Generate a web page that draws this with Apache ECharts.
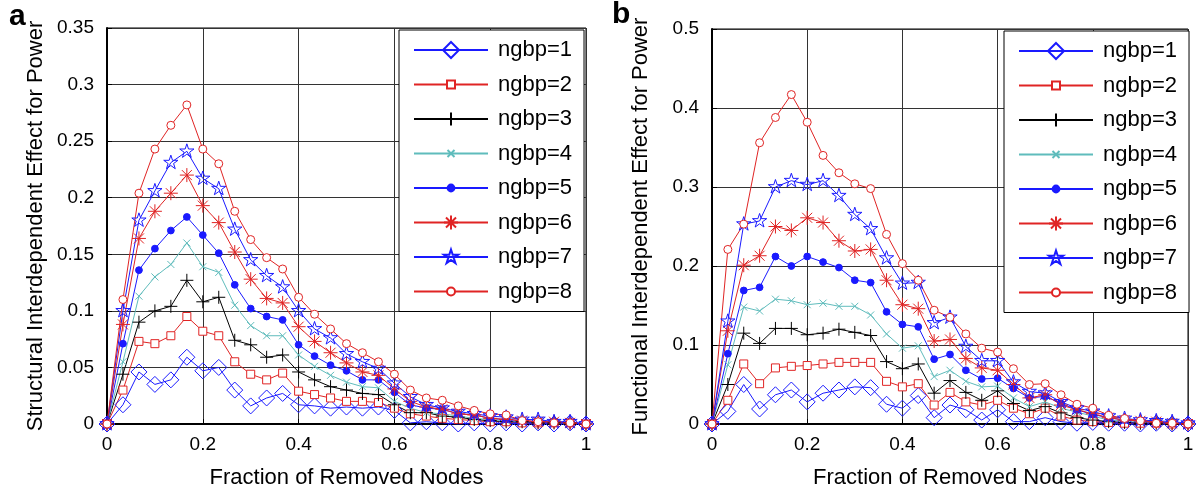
<!DOCTYPE html>
<html>
<head>
<meta charset="utf-8">
<script src="https://cdn.jsdelivr.net/npm/echarts@6/dist/echarts.min.js"></script>
<style>html,body{margin:0;padding:0;background:#fff;}#c{width:1198px;height:494px;}</style>
</head>
<body>
<div id="c"></div>
<script>
const xs = [0, 0.0333, 0.0667, 0.1, 0.1333, 0.1667, 0.2, 0.2333, 0.2667, 0.3, 0.3333, 0.3667, 0.4, 0.4333, 0.4667, 0.5, 0.5333, 0.5667, 0.6, 0.6333, 0.6667, 0.7, 0.7333, 0.7667, 0.8, 0.8333, 0.8667, 0.9, 0.9333, 0.9667, 1];
const seriesNames = ['ngbp=1','ngbp=2','ngbp=3','ngbp=4','ngbp=5','ngbp=6','ngbp=7','ngbp=8'];

// Panel a: Structural Interdependent Effect for Power
const L1 = [0, 0.017, 0.046, 0.035, 0.039, 0.059, 0.047, 0.050, 0.030, 0.016, 0.023, 0.027, 0.017, 0.016, 0.014, 0.015, 0.014, 0.015, 0.012, 0.001, 0.002, 0.001, 0.000, 0.001, 0.000, 0.001, 0.000, 0.001, 0.000, 0.001, 0.000];
const L2 = [0, 0.030, 0.073, 0.071, 0.078, 0.095, 0.082, 0.078, 0.055, 0.044, 0.039, 0.045, 0.029, 0.026, 0.023, 0.020, 0.020, 0.019, 0.014, 0.009, 0.007, 0.005, 0.004, 0.003, 0.002, 0.002, 0.001, 0.001, 0.001, 0.001, 0.000];
const L3 = [0, 0.044, 0.090, 0.100, 0.104, 0.127, 0.108, 0.112, 0.074, 0.070, 0.059, 0.061, 0.046, 0.039, 0.033, 0.030, 0.027, 0.026, 0.017, 0.010, 0.010, 0.007, 0.006, 0.004, 0.003, 0.002, 0.002, 0.001, 0.001, 0.001, 0.000];
const L4 = [0, 0.055, 0.113, 0.130, 0.141, 0.160, 0.139, 0.134, 0.105, 0.087, 0.078, 0.078, 0.061, 0.051, 0.043, 0.037, 0.033, 0.032, 0.020, 0.014, 0.010, 0.009, 0.007, 0.005, 0.004, 0.003, 0.002, 0.002, 0.001, 0.001, 0.000];
const L5 = [0, 0.071, 0.136, 0.155, 0.171, 0.183, 0.167, 0.151, 0.123, 0.102, 0.095, 0.092, 0.070, 0.060, 0.052, 0.047, 0.039, 0.039, 0.028, 0.017, 0.014, 0.013, 0.009, 0.008, 0.005, 0.004, 0.003, 0.002, 0.002, 0.001, 0.000];
const L6 = [0, 0.088, 0.164, 0.188, 0.204, 0.220, 0.193, 0.178, 0.152, 0.128, 0.111, 0.107, 0.086, 0.073, 0.063, 0.054, 0.046, 0.043, 0.031, 0.020, 0.015, 0.013, 0.009, 0.008, 0.005, 0.004, 0.003, 0.002, 0.002, 0.001, 0.000];
const L7 = [0, 0.100, 0.180, 0.206, 0.231, 0.241, 0.217, 0.208, 0.172, 0.145, 0.131, 0.121, 0.100, 0.084, 0.076, 0.062, 0.055, 0.049, 0.036, 0.024, 0.017, 0.014, 0.011, 0.009, 0.007, 0.006, 0.004, 0.004, 0.002, 0.002, 0.000];
const L8 = [0, 0.110, 0.204, 0.243, 0.264, 0.282, 0.243, 0.230, 0.188, 0.163, 0.147, 0.137, 0.112, 0.097, 0.084, 0.071, 0.063, 0.055, 0.044, 0.030, 0.023, 0.021, 0.016, 0.012, 0.009, 0.008, 0.003, 0.002, 0.001, 0.001, 0.000];

// Panel b: Functional Interdependent Effect for Power
const R1 = [0, 0.016, 0.050, 0.019, 0.037, 0.043, 0.028, 0.039, 0.043, 0.047, 0.046, 0.025, 0.020, 0.036, 0.008, 0.024, 0.018, 0.005, 0.018, 0.003, 0.003, 0.008, 0.003, 0.001, 0.002, 0.001, 0.001, 0.000, 0.001, 0.000, 0.000];
const R2 = [0, 0.030, 0.076, 0.051, 0.071, 0.073, 0.074, 0.076, 0.078, 0.078, 0.078, 0.054, 0.047, 0.051, 0.024, 0.040, 0.028, 0.024, 0.030, 0.020, 0.013, 0.020, 0.010, 0.005, 0.003, 0.002, 0.001, 0.001, 0.001, 0.000, 0.000];
const R3 = [0, 0.050, 0.115, 0.102, 0.121, 0.121, 0.113, 0.115, 0.120, 0.116, 0.112, 0.079, 0.070, 0.076, 0.039, 0.055, 0.040, 0.030, 0.042, 0.026, 0.017, 0.022, 0.014, 0.008, 0.005, 0.003, 0.002, 0.001, 0.001, 0.000, 0.000];
const R4 = [0, 0.075, 0.148, 0.143, 0.158, 0.156, 0.151, 0.153, 0.149, 0.149, 0.138, 0.114, 0.096, 0.099, 0.060, 0.068, 0.054, 0.047, 0.048, 0.033, 0.022, 0.028, 0.020, 0.015, 0.010, 0.005, 0.004, 0.003, 0.002, 0.001, 0.000];
const R5 = [0, 0.089, 0.169, 0.173, 0.212, 0.200, 0.212, 0.205, 0.198, 0.182, 0.179, 0.142, 0.126, 0.123, 0.082, 0.088, 0.068, 0.057, 0.058, 0.045, 0.033, 0.035, 0.026, 0.018, 0.012, 0.008, 0.005, 0.004, 0.003, 0.001, 0.000];
const R6 = [0, 0.118, 0.201, 0.213, 0.250, 0.245, 0.261, 0.255, 0.232, 0.219, 0.221, 0.182, 0.151, 0.146, 0.105, 0.107, 0.083, 0.071, 0.068, 0.050, 0.033, 0.037, 0.024, 0.018, 0.013, 0.008, 0.005, 0.004, 0.003, 0.001, 0.000];
const R7 = [0, 0.130, 0.253, 0.257, 0.300, 0.308, 0.303, 0.308, 0.289, 0.265, 0.247, 0.210, 0.178, 0.179, 0.128, 0.135, 0.098, 0.080, 0.080, 0.053, 0.041, 0.039, 0.028, 0.020, 0.016, 0.010, 0.007, 0.005, 0.004, 0.003, 0.001];
const R8 = [0, 0.221, 0.253, 0.356, 0.388, 0.417, 0.382, 0.340, 0.318, 0.304, 0.298, 0.240, 0.203, 0.182, 0.144, 0.135, 0.114, 0.096, 0.091, 0.070, 0.050, 0.051, 0.037, 0.025, 0.020, 0.011, 0.007, 0.004, 0.001, 0.001, 0.000];

const leftSeries = [L1, L2, L3, L4, L5, L6, L7, L8];
const rightSeries = [R1, R2, R3, R4, R5, R6, R7, R8];

const xTicks = {min: 0, max: 1, interval: 0.2};
const yTicksA = {min: 0, max: 0.35, interval: 0.05};
const yTicksB = {min: 0, max: 0.5, interval: 0.1};

const BLUE = '#1a1aff', RED = '#e02424', BLACK = '#000000', CYAN = '#5fbcbc';
const B = 'M0,0M16,16';
const styles = [
  {color: BLUE,  sym: 'path://M8,0L16,8L8,16L0,8Z', fill: 'rgba(0,0,0,0)'},
  {color: RED,   sym: 'path://' + B + 'M4,4L12,4L12,12L4,12Z', fill: '#ffffff'},
  {color: BLACK, sym: 'path://' + B + 'M8,1.5L8,14.5M1.5,8L14.5,8', fill: 'rgba(0,0,0,0)'},
  {color: CYAN,  sym: 'path://' + B + 'M4.5,4.5L11.5,11.5M11.5,4.5L4.5,11.5', fill: 'rgba(0,0,0,0)'},
  {color: BLUE,  sym: 'path://' + B + 'M4.6,8A3.4,3.4,0,1,1,11.4,8A3.4,3.4,0,1,1,4.6,8Z', fill: BLUE},
  {color: RED,   sym: 'path://' + B + 'M8,1L8,15M1,8L15,8M3,3L13,13M13,3L3,13', fill: 'rgba(0,0,0,0)'},
  {color: BLUE,  sym: 'path://' + B + 'M8,0.5L9.68,5.68L15.13,5.68L10.73,8.89L12.41,14.07L8,10.87L3.59,14.07L5.27,8.89L0.87,5.68L6.32,5.68Z', fill: 'rgba(0,0,0,0)'},
  {color: RED,   sym: 'path://' + B + 'M4,8A4,4,0,1,1,12,8A4,4,0,1,1,4,8Z', fill: '#ffffff'}
];

const FONT = "'Liberation Sans', Arial, Helvetica, sans-serif";

function makeSeries(arrs, gi) {
  return arrs.map((vals, i) => ({
    type: 'line',
    name: seriesNames[i],
    xAxisIndex: gi, yAxisIndex: gi,
    data: xs.map((x, k) => [x, vals[k]]),
    symbol: styles[i].sym,
    symbolSize: 16,
    showAllSymbol: true,
    clip: false,
    animation: false,
    lineStyle: {color: styles[i].color, width: 1},
    itemStyle: {color: styles[i].fill, borderColor: styles[i].color, borderWidth: 1},
    emphasis: {disabled: true}
  }));
}

function xAxisCfg(gi) {
  return {
    type: 'value', gridIndex: gi, min: xTicks.min, max: xTicks.max, interval: xTicks.interval,
    name: 'Fraction of Removed Nodes', nameLocation: 'middle', nameGap: 43,
    nameTextStyle: {fontSize: 22, color: '#000', fontFamily: FONT},
    axisLine: {show: true, onZero: false, lineStyle: {color: '#000', width: 2}},
    axisTick: {show: true, inside: true, length: 5, lineStyle: {color: '#000'}},
    axisLabel: {fontSize: 19, color: '#000', fontFamily: FONT, margin: 11},
    splitLine: {show: true, lineStyle: {color: '#333', width: 1}}
  };
}
function yAxisCfg(gi, t, name) {
  return {
    type: 'value', gridIndex: gi, min: t.min, max: t.max, interval: t.interval,
    name: name, nameLocation: 'middle', nameGap: 60, nameRotate: 90,
    nameTextStyle: {fontSize: 22, color: '#000', fontFamily: FONT},
    axisLine: {show: true, onZero: false, lineStyle: {color: '#000', width: 2}},
    axisTick: {show: true, inside: true, length: 5, lineStyle: {color: '#000'}},
    axisLabel: {fontSize: 19, color: '#000', fontFamily: FONT, margin: 13},
    splitLine: {show: true, lineStyle: {color: '#333', width: 1}}
  };
}
function legendCfg(left, top) {
  return {
    orient: 'vertical', left: left, top: top,
    data: seriesNames,
    itemWidth: 74, itemHeight: 20, itemGap: 12.5,
    padding: [9, 12, 9, 14],
    backgroundColor: '#fff', borderColor: '#000', borderWidth: 1, borderRadius: 0,
    selectedMode: false,
    textStyle: {fontSize: 22, color: '#000', fontFamily: FONT, padding: [0, 0, 0, 5]}
  };
}

const chart = echarts.init(document.getElementById('c'), null, {renderer: 'canvas'});
chart.setOption({
  animation: false,
  backgroundColor: '#fff',
  grid: [
    {left: 107, top: 28, width: 479, height: 402, show: true, borderColor: '#000', borderWidth: 1, backgroundColor: 'transparent'},
    {left: 712, top: 29, width: 476, height: 400, show: true, borderColor: '#000', borderWidth: 1, backgroundColor: 'transparent'}
  ],
  xAxis: [xAxisCfg(0), xAxisCfg(1)],
  yAxis: [yAxisCfg(0, yTicksA, 'Structural Interdependent Effect for Power'), yAxisCfg(1, yTicksB, 'Functional Interdependent Effect for Power')],
  legend: [legendCfg(399, 30), legendCfg(1004, 31)],
  graphic: [
    {type: 'text', left: 9, top: 2, style: {text: 'a', font: 'bold 30px ' + FONT, fill: '#000'}},
    {type: 'text', left: 612, top: 0, style: {text: 'b', font: 'bold 30px ' + FONT, fill: '#000'}}
  ],
  series: makeSeries(leftSeries, 0).concat(makeSeries(rightSeries, 1))
});
</script>
</body>
</html>
